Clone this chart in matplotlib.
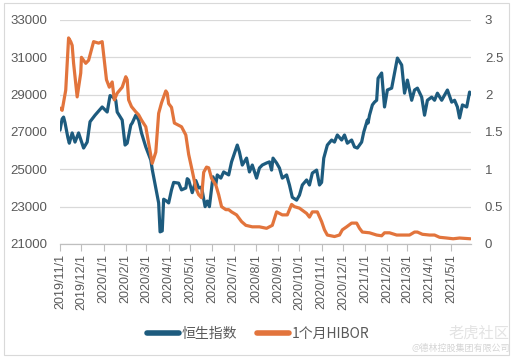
import matplotlib
matplotlib.use("Agg")
import matplotlib.pyplot as plt
import matplotlib.dates as mdates
from matplotlib.patches import Rectangle
import pandas as pd

plt.rcParams['font.family'] = ['Liberation Sans', 'Noto Sans CJK SC']

# Hang Seng index (left axis)
hsi_dates = ["2019-11-01", "2019-11-04", "2019-11-06", "2019-11-08", "2019-11-12", "2019-11-14",
             "2019-11-18", "2019-11-22", "2019-11-27", "2019-12-04", "2019-12-09", "2019-12-13",
             "2019-12-20", "2019-12-30", "2020-01-06", "2020-01-10", "2020-01-14", "2020-01-18",
             "2020-01-20", "2020-01-27", "2020-01-31", "2020-02-03", "2020-02-08", "2020-02-10",
             "2020-02-15", "2020-02-19", "2020-02-23", "2020-02-29", "2020-03-07", "2020-03-09",
             "2020-03-18", "2020-03-20", "2020-03-23", "2020-03-25", "2020-03-29", "2020-04-01",
             "2020-04-05", "2020-04-08", "2020-04-15", "2020-04-19", "2020-04-25", "2020-04-27",
             "2020-04-29", "2020-05-04", "2020-05-09", "2020-05-13", "2020-05-17", "2020-05-22",
             "2020-05-25", "2020-05-28", "2020-06-02", "2020-06-06", "2020-06-08", "2020-06-13",
             "2020-06-17", "2020-06-24", "2020-06-28", "2020-07-06", "2020-07-09", "2020-07-13",
             "2020-07-19", "2020-07-23", "2020-07-27", "2020-08-02", "2020-08-06", "2020-08-10",
             "2020-08-16", "2020-08-20", "2020-08-23", "2020-08-25", "2020-08-30", "2020-09-03",
             "2020-09-07", "2020-09-13", "2020-09-17", "2020-09-21", "2020-09-27", "2020-10-01",
             "2020-10-05", "2020-10-11", "2020-10-15", "2020-10-19", "2020-10-25", "2020-10-29",
             "2020-11-01", "2020-11-04", "2020-11-09", "2020-11-15", "2020-11-19", "2020-11-23",
             "2020-11-29", "2020-12-03", "2020-12-07", "2020-12-13", "2020-12-17", "2020-12-21",
             "2020-12-27", "2020-12-30", "2021-01-04", "2021-01-05", "2021-01-07", "2021-01-11",
             "2021-01-14", "2021-01-17", "2021-01-19", "2021-01-24", "2021-01-28", "2021-02-01",
             "2021-02-07", "2021-02-11", "2021-02-15", "2021-02-21", "2021-02-25", "2021-03-01",
             "2021-03-07", "2021-03-11", "2021-03-15", "2021-03-21", "2021-03-25", "2021-03-29",
             "2021-04-04", "2021-04-08", "2021-04-12", "2021-04-18", "2021-04-22", "2021-04-26",
             "2021-05-02", "2021-05-06", "2021-05-10", "2021-05-13", "2021-05-17", "2021-05-23",
             "2021-05-27", "2021-05-28"]
hsi_values = [27100, 27700, 27800, 27500, 26700, 26400,
              26950, 26460, 26950, 26140, 26460, 27550,
              27900, 28340, 28070, 28950, 28870, 28700,
              28070, 27640, 26300, 26400, 27370, 27480,
              27900, 27640, 26950, 26200, 25500, 25000,
              23200, 21650, 21700, 23400, 23300, 23200,
              23900, 24300, 24260, 23900, 24000, 24500,
              24430, 23750, 24400, 24000, 24050, 23000,
              23300, 23000, 24600, 24200, 24700, 24530,
              24860, 24700, 25400, 26300, 25930, 25230,
              25600, 24860, 25230, 24530, 25070, 25230,
              25340, 25400, 24960, 25600, 25340, 25070,
              24530, 24700, 24160, 23500, 23350, 23620,
              24160, 24430, 24160, 24800, 24960, 24160,
              24300, 25600, 26300, 26570, 26460, 26840,
              26570, 26840, 26400, 26570, 26200, 26140,
              26460, 27000, 27640, 27480, 27900, 28450,
              28600, 28700, 29880, 30160, 28340, 29250,
              29350, 30160, 30960, 30590, 29080, 29780,
              28700, 29250, 29350, 28870, 27900, 28700,
              28870, 28700, 29080, 28700, 28980, 29250,
              28600, 28700, 28340, 27750, 28450, 28340,
              29140, 29050]

# 1-month HIBOR (right axis, %)
hibor_dates = ["2019-11-01", "2019-11-04", "2019-11-09", "2019-11-13", "2019-11-16", "2019-11-18",
               "2019-11-20", "2019-11-25", "2019-11-30", "2019-12-01", "2019-12-07", "2019-12-11",
               "2019-12-18", "2019-12-25", "2019-12-30", "2020-01-05", "2020-01-09", "2020-01-13",
               "2020-01-16", "2020-01-20", "2020-01-27", "2020-02-01", "2020-02-03", "2020-02-05",
               "2020-02-09", "2020-02-15", "2020-02-19", "2020-02-23", "2020-02-29", "2020-03-04",
               "2020-03-09", "2020-03-14", "2020-03-18", "2020-03-22", "2020-03-28", "2020-03-30",
               "2020-04-01", "2020-04-05", "2020-04-09", "2020-04-15", "2020-04-19", "2020-04-25",
               "2020-04-29", "2020-05-04", "2020-05-09", "2020-05-13", "2020-05-17", "2020-05-20",
               "2020-05-24", "2020-05-27", "2020-05-31", "2020-06-06", "2020-06-10", "2020-06-14",
               "2020-06-20", "2020-06-24", "2020-06-28", "2020-07-05", "2020-07-12", "2020-07-18",
               "2020-07-27", "2020-08-06", "2020-08-16", "2020-08-24", "2020-08-30", "2020-09-03",
               "2020-09-07", "2020-09-14", "2020-09-20", "2020-09-24", "2020-10-01", "2020-10-11",
               "2020-10-15", "2020-10-19", "2020-10-26", "2020-11-01", "2020-11-05", "2020-11-09",
               "2020-11-19", "2020-11-26", "2020-11-30", "2020-12-06", "2020-12-13", "2020-12-20",
               "2020-12-24", "2020-12-28", "2021-01-07", "2021-01-17", "2021-01-24", "2021-01-28",
               "2021-02-04", "2021-02-14", "2021-02-23", "2021-03-04", "2021-03-11", "2021-03-15",
               "2021-03-22", "2021-04-01", "2021-04-08", "2021-04-15", "2021-04-25", "2021-05-04",
               "2021-05-13", "2021-05-28"]
hibor_values = [1.82, 1.79, 2.06, 2.76, 2.71, 2.66,
                2.42, 1.97, 2.29, 2.50, 2.42, 2.46,
                2.71, 2.69, 2.71, 2.20, 2.10, 2.17,
                1.93, 2.02, 2.10, 2.24, 2.20, 1.93,
                1.84, 1.77, 1.73, 1.66, 1.57, 1.35,
                1.08, 1.23, 1.75, 1.89, 2.05, 2.02,
                1.88, 1.83, 1.62, 1.59, 1.57, 1.46,
                1.20, 0.98, 0.75, 0.66, 0.62, 0.96,
                1.03, 1.02, 0.88, 0.79, 0.66, 0.50,
                0.46, 0.46, 0.43, 0.39, 0.30, 0.25,
                0.23, 0.23, 0.21, 0.25, 0.43, 0.41,
                0.39, 0.39, 0.53, 0.50, 0.48, 0.41,
                0.36, 0.43, 0.43, 0.30, 0.19, 0.12,
                0.10, 0.12, 0.19, 0.23, 0.28, 0.28,
                0.21, 0.16, 0.15, 0.12, 0.11, 0.15,
                0.15, 0.12, 0.12, 0.12, 0.16, 0.16,
                0.13, 0.12, 0.12, 0.09, 0.08, 0.07,
                0.08, 0.07]

tick_dates = pd.date_range("2019-11-01", "2021-05-01", freq="MS")
tick_labels = [f"{d.year}/{d.month}/1" for d in tick_dates]

blue = "#1d5b7e"
orange = "#e2743c"
grey_txt = "#595959"

fig = plt.figure(figsize=(5.16, 3.61), dpi=100)
ax = fig.add_axes([0.1163, 0.3241, 0.7965, 0.6205])
ax2 = ax.twinx()

l1, = ax.plot(pd.to_datetime(hsi_dates), hsi_values, color=blue, lw=2.3,
              solid_joinstyle="round", solid_capstyle="round", label="恒生指数", zorder=3)
l2, = ax2.plot(pd.to_datetime(hibor_dates), hibor_values, color=orange, lw=2.3,
               solid_joinstyle="round", solid_capstyle="round", label="1个月HIBOR", zorder=2)

ax.set_ylim(21000, 33000)
ax.set_yticks(range(21000, 33001, 2000))
ax2.set_ylim(0, 3)
ax2.set_yticks([0, 0.5, 1, 1.5, 2, 2.5, 3])
ax2.set_yticklabels(["0", "0.5", "1", "1.5", "2", "2.5", "3"])
ax.set_xlim(pd.Timestamp("2019-11-01"), pd.Timestamp("2021-05-29"))
ax.set_xticks(tick_dates)
ax.set_xticklabels(tick_labels, rotation=90)

ax.grid(axis="y", color="#d9d9d9", lw=0.9)
ax.set_axisbelow(True)
for a in (ax, ax2):
    for s in ("top", "left", "right"):
        a.spines[s].set_visible(False)
    a.spines["bottom"].set_color("#bfbfbf")
ax.tick_params(axis="y", length=0, labelsize=9.5, labelcolor=grey_txt, pad=9)
ax2.tick_params(axis="y", length=0, labelsize=9.5, labelcolor=grey_txt, pad=10)
ax.tick_params(axis="x", direction="out", length=5, color="#bfbfbf",
               labelsize=9, labelcolor=grey_txt, pad=2)

leg = fig.legend([l1, l2], ["恒生指数", "1个月HIBOR"], loc="center",
                 bbox_to_anchor=(0.5, 1 - 334 / 361), ncol=2, frameon=False,
                 handlelength=2.3, columnspacing=1.4, handletextpad=0.2,
                 prop={"family": ["Noto Sans CJK SC"], "size": 10})
for t in leg.get_texts():
    t.set_color(grey_txt)
for h in leg.legend_handles:
    h.set_linewidth(4)

# chart border
fig.patches.append(Rectangle((4 / 516, 1 - 355 / 361), 505 / 516, 352 / 361,
                             transform=fig.transFigure, fill=False,
                             edgecolor="#d9d9d9", lw=0.8))

# watermark
fig.text(0.988, 1 - 333 / 361, "老虎社区", ha="right", va="center",
         family=["Noto Sans CJK SC"], fontsize=11, color="#e3e3e3")
fig.text(0.988, 1 - 348 / 361, "@德林控股集团有限公司", ha="right", va="center",
         family=["Noto Sans CJK SC"], fontsize=6.5, color="#d5d5d5")

fig.savefig("out.png", dpi=100)
